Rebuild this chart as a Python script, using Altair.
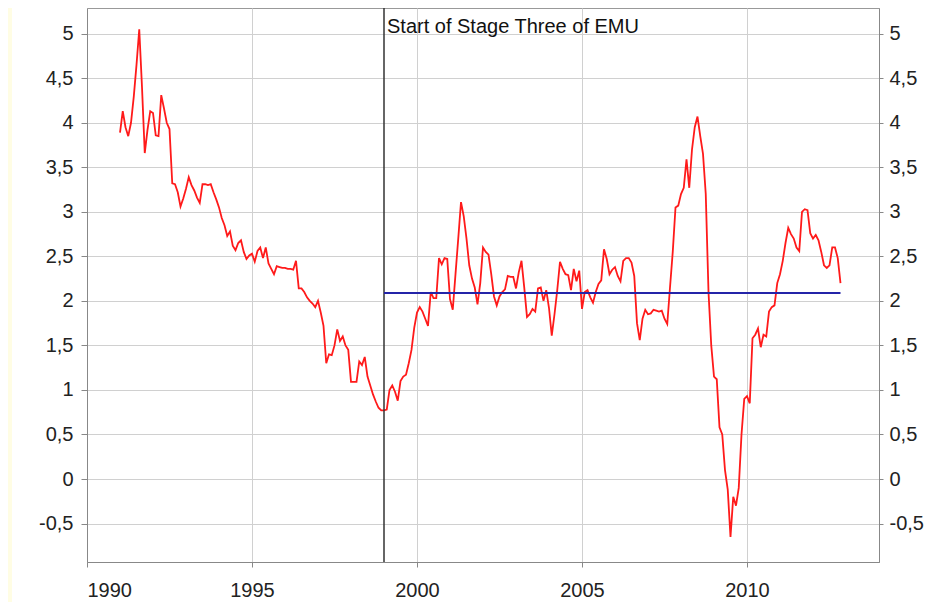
import altair as alt
import pandas as pd

# ---- data (monthly inflation, %, starting January 1991) ----
start_year = 1991
infl_1991 = [3.89, 4.13, 3.95, 3.85, 4.00, 4.29, 4.65, 5.05, 4.40, 3.66, 3.92, 4.13]
infl_1992 = [4.11, 3.86, 3.85, 4.31, 4.16, 4.00, 3.93, 3.32, 3.31, 3.22, 3.06, 3.15]
infl_1993 = [3.26, 3.39, 3.30, 3.24, 3.16, 3.10, 3.31, 3.31, 3.30, 3.31, 3.22, 3.14]
infl_1994 = [3.05, 2.93, 2.85, 2.73, 2.78, 2.62, 2.57, 2.65, 2.68, 2.55, 2.47, 2.51]
infl_1995 = [2.53, 2.44, 2.56, 2.60, 2.48, 2.60, 2.42, 2.36, 2.30, 2.39, 2.38, 2.37]
infl_1996 = [2.37, 2.36, 2.36, 2.35, 2.45, 2.14, 2.14, 2.10, 2.04, 2.00, 1.97, 1.93]
infl_1997 = [2.00, 1.87, 1.72, 1.30, 1.40, 1.39, 1.50, 1.68, 1.55, 1.60, 1.50, 1.45]
infl_1998 = [1.09, 1.09, 1.09, 1.32, 1.28, 1.37, 1.15, 1.05, 0.95, 0.87, 0.80, 0.77]
infl_1999 = [0.77, 0.78, 1.00, 1.05, 0.98, 0.88, 1.10, 1.15, 1.17, 1.30, 1.45, 1.70]
infl_2000 = [1.87, 1.93, 1.88, 1.80, 1.72, 2.10, 2.03, 2.03, 2.48, 2.41, 2.48, 2.47]
infl_2001 = [2.02, 1.90, 2.30, 2.70, 3.11, 2.95, 2.70, 2.40, 2.25, 2.15, 1.96, 2.20]
infl_2002 = [2.60, 2.55, 2.52, 2.30, 2.05, 1.95, 2.05, 2.10, 2.13, 2.28, 2.27, 2.27]
infl_2003 = [2.14, 2.32, 2.45, 2.15, 1.82, 1.85, 1.91, 1.88, 2.14, 2.15, 2.00, 2.12]
infl_2004 = [1.92, 1.61, 1.85, 2.12, 2.44, 2.36, 2.30, 2.29, 2.12, 2.36, 2.22, 2.34]
infl_2005 = [1.91, 2.10, 2.12, 2.04, 1.98, 2.10, 2.19, 2.23, 2.58, 2.47, 2.30, 2.35]
infl_2006 = [2.38, 2.28, 2.22, 2.45, 2.48, 2.48, 2.43, 2.28, 1.75, 1.56, 1.80, 1.90]
infl_2007 = [1.85, 1.86, 1.90, 1.89, 1.88, 1.89, 1.80, 1.74, 2.15, 2.55, 3.05, 3.07]
infl_2008 = [3.20, 3.27, 3.59, 3.27, 3.70, 3.95, 4.07, 3.85, 3.65, 3.20, 2.10, 1.50]
infl_2009 = [1.15, 1.12, 0.58, 0.50, 0.10, -0.12, -0.65, -0.20, -0.30, -0.10, 0.50, 0.90]
infl_2010 = [0.93, 0.85, 1.58, 1.62, 1.69, 1.48, 1.62, 1.60, 1.88, 1.93, 1.95, 2.20]
infl_2011 = [2.30, 2.45, 2.65, 2.82, 2.75, 2.70, 2.60, 2.56, 3.00, 3.03, 3.02, 2.76]
infl_2012 = [2.70, 2.74, 2.68, 2.55, 2.40, 2.37, 2.40, 2.60, 2.60, 2.48, 2.20]

average_level = 2.09
emu_start = 1999.0
annotation = "Start of Stage Three of EMU"
x_ticks = [1990, 1995, 2000, 2005, 2010]
y_ticks = [-0.5, 0, 0.5, 1, 1.5, 2, 2.5, 3, 3.5, 4, 4.5, 5]

values = (infl_1991 + infl_1992 + infl_1993 + infl_1994 + infl_1995 + infl_1996
          + infl_1997 + infl_1998 + infl_1999 + infl_2000 + infl_2001 + infl_2002
          + infl_2003 + infl_2004 + infl_2005 + infl_2006 + infl_2007 + infl_2008
          + infl_2009 + infl_2010 + infl_2011 + infl_2012)
times = [start_year + i / 12 for i in range(len(values))]
df = pd.DataFrame({"t": times, "v": values})
df_avg = pd.DataFrame({"t": [emu_start, times[-1]], "v": [average_level, average_level]})
df_emu = pd.DataFrame({"t": [emu_start], "v": [5.0], "label": [annotation]})

FONT = "Liberation Sans"
LABEL = "#222"
x_scale = alt.Scale(domain=[1990, 2014], nice=False, zero=False)
y_scale = alt.Scale(domain=[-0.932, 5.289], nice=False, zero=False)
label_expr = "replace(toString(datum.value), '.', ',')"

x_axis = alt.Axis(values=x_ticks, format="d", title=None, grid=True,
                  gridColor="#d0d0d0", tickSize=5, tickColor="#888",
                  domainColor="#888", labelFontSize=20, labelFont=FONT,
                  labelColor=LABEL, labelPadding=13)
left_axis = alt.Axis(orient="left", values=y_ticks, labelExpr=label_expr,
                     title=None, grid=True, gridColor="#d0d0d0", tickSize=6,
                     tickColor="#888", domainColor="#888", labelFontSize=20,
                     labelFont=FONT, labelColor=LABEL, labelPadding=8)
right_axis = alt.Axis(orient="right", values=y_ticks, labelExpr=label_expr,
                      title=None, grid=False, tickSize=4, tickColor="#888",
                      domainColor="#888", labelFontSize=20, labelFont=FONT,
                      labelColor=LABEL, labelPadding=6)

X = alt.X("t:Q", scale=x_scale, axis=x_axis)

band = alt.Chart(pd.DataFrame({"a": [0]})).mark_rect(color="#fffde4").encode(
    x=alt.value(-79), x2=alt.value(-75), y=alt.value(0), y2=alt.value(600))

base_line = alt.Chart(df).mark_line(color="#ff1a1a", strokeWidth=1.8).encode(
    x=X, y=alt.Y("v:Q", scale=y_scale, axis=left_axis))

right_layer = alt.Chart(df).mark_line(opacity=0).encode(
    x=X, y=alt.Y("v:Q", scale=y_scale, axis=right_axis))

emu_rule = alt.Chart(df_emu).mark_rule(color="#333", strokeWidth=1.5).encode(x=X)

avg_line = alt.Chart(df_avg).mark_line(color="#2424a8", strokeWidth=2).encode(
    x=X, y=alt.Y("v:Q", scale=y_scale, axis=None))

emu_text = alt.Chart(df_emu).mark_text(
    align="left", baseline="alphabetic", dx=3, dy=-1, fontSize=20, font=FONT,
    color="#111").encode(
    x=X, y=alt.Y("v:Q", scale=y_scale, axis=None), text="label:N")

chart = alt.layer(band, base_line, right_layer, emu_rule, avg_line, emu_text).resolve_axis(
    y="independent"
).properties(
    width=792, height=554,
    padding={"left": 79, "top": 0, "right": 50, "bottom": 40},
    autosize=alt.AutoSizeParams(type="none"),
).configure_view(stroke="#999", strokeWidth=1)

chart.save("out.html", embed_options={"renderer": "svg", "actions": False})
